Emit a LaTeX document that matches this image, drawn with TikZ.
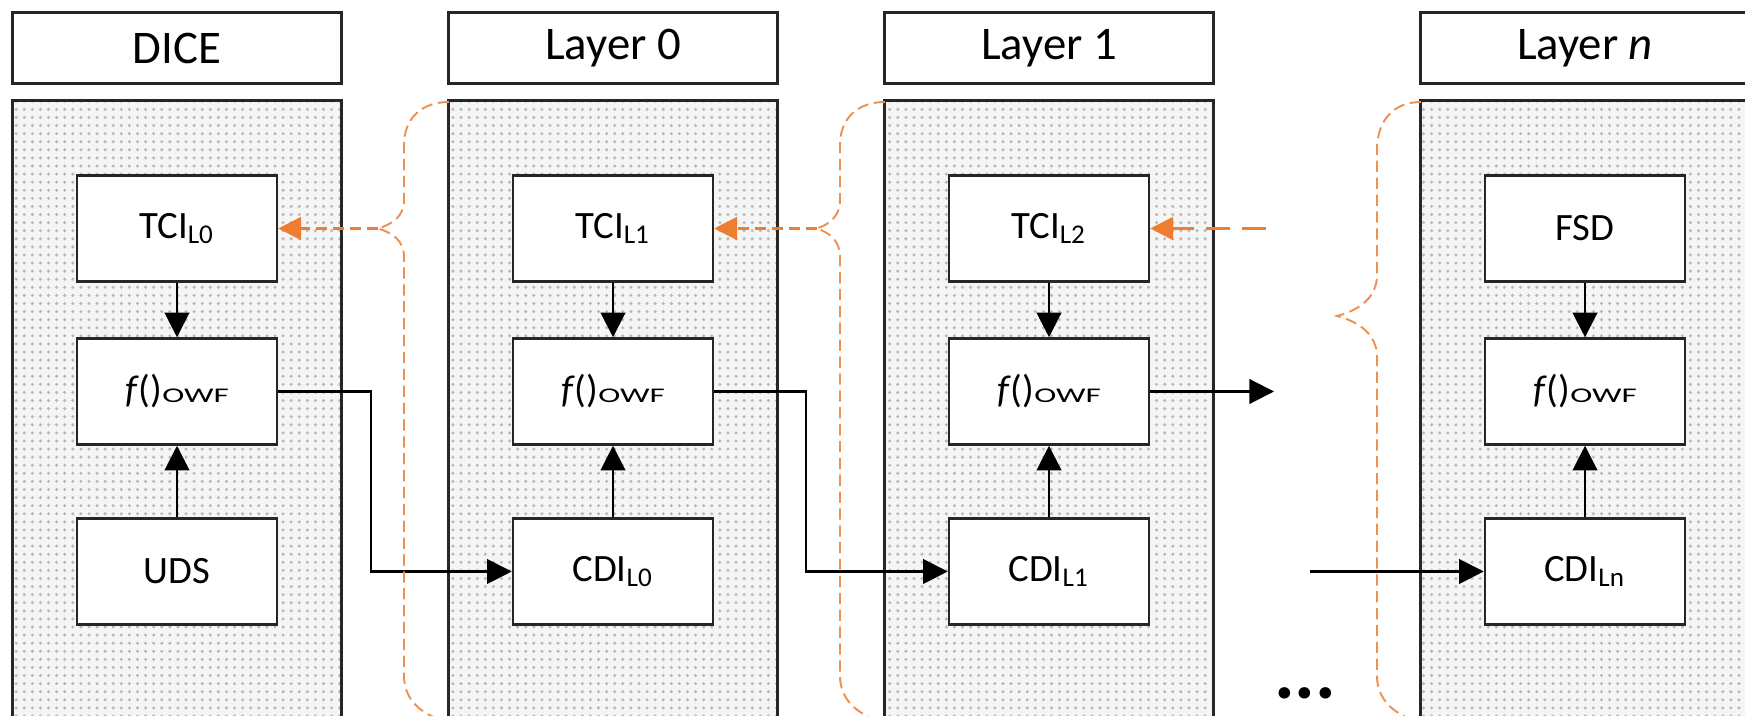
\documentclass[tikz,border=0pt]{standalone}
\usepackage{fontspec}
\setmainfont{Carlito}
\usepackage{graphicx}
\usetikzlibrary{arrows.meta,patterns.meta}

\definecolor{braceorange}{HTML}{ED7D31}

% f()_OWF label
\newcommand\fowflabel{\textit{f}()\fontsize{9}{9}\selectfont\scalebox{1.05}[0.66]{OWF}}

\begin{document}
\begin{tikzpicture}[x=0.01cm,y=-0.01cm,
  header/.style={draw=black!85,line width=0.85pt,fill=white,
    minimum width=3.28cm,minimum height=0.70cm,inner sep=0pt,
    font=\fontsize{13.3}{15}\selectfont},
  layerbox/.style={draw=black!85,line width=0.85pt,
    minimum width=3.28cm,minimum height=6.4cm,inner sep=0pt,
    preaction={fill=black!4},
    preaction={pattern={Dots[distance=2.3pt,radius=0.48pt]},pattern color=black!28}},
  inbox/.style={draw=black!85,line width=0.7pt,fill=white,
    minimum width=2cm,minimum height=1.06cm,inner sep=0pt,
    font=\fontsize{11}{13}\selectfont},
  arr/.style={line width=0.6pt,-{Triangle[length=7pt,width=7pt]}},
  bracepath/.style={draw=braceorange!85,line width=0.55pt,dash pattern=on 3.2pt off 1.6pt},
  feedback/.style={draw=braceorange,line width=0.7pt,dash pattern=on 3.2pt off 1.6pt,
    -{Triangle[length=6.5pt,width=6.5pt]}},
  longfeedback/.style={draw=braceorange,line width=0.7pt,dash pattern=on 6.8pt off 3.4pt,
    -{Triangle[length=6.5pt,width=6.5pt]}}
]
\clip (0,0) rectangle (1745,716);
\fill[white] (0,0) rectangle (1745,716);

% layer columns
\node[layerbox] (body0) at (177,421) {};
\node[layerbox] (body1) at (613,421) {};
\node[layerbox] (body2) at (1049,421) {};
\node[layerbox] (bodyn) at (1585,421) {};

\node[header] (head0) at (177,48) {DICE};
\node[header] (head1) at (613,48) {Layer 0};
\node[header] (head2) at (1049,48) {Layer 1};
\node[header] (headn) at (1585,48) {Layer \textit{n}};

% DICE
\node[inbox] (tci0) at (177,228.5) {TCI\textsubscript{L0}};
\node[inbox] (f0)   at (177,391.5) {\fowflabel};
\node[inbox] (uds)  at (177,571.5) {UDS};
% Layer 0
\node[inbox] (tci1) at (613,228.5) {TCI\textsubscript{L1}};
\node[inbox] (f1)   at (613,391.5) {\fowflabel};
\node[inbox] (cdi0) at (613,571.5) {CDI\textsubscript{L0}};
% Layer 1
\node[inbox] (tci2) at (1049,228.5) {TCI\textsubscript{L2}};
\node[inbox] (f2)   at (1049,391.5) {\fowflabel};
\node[inbox] (cdi1) at (1049,571.5) {CDI\textsubscript{L1}};
% Layer n
\node[inbox] (fsd)  at (1585,228.5) {FSD};
\node[inbox] (fn)   at (1585,391.5) {\fowflabel};
\node[inbox] (cdin) at (1585,571.5) {CDI\textsubscript{Ln}};

% vertical flows inside each layer
\draw[arr] (tci0) -- (f0);
\draw[arr] (uds) -- (f0);
\draw[arr] (tci1) -- (f1);
\draw[arr] (cdi0) -- (f1);
\draw[arr] (tci2) -- (f2);
\draw[arr] (cdi1) -- (f2);
\draw[arr] (fsd) -- (fn);
\draw[arr] (cdin) -- (fn);

% OWF output feeds the next layer's CDI
\draw[arr] (f0.east) -- ++(93,0) |- (cdi0.west);
\draw[arr] (f1.east) -- ++(92,0) |- (cdi1.west);
\coordinate (outone) at (1274,391.5);
\draw[arr] (f2.east) -- (outone);
\coordinate (inlast) at (1310,571.5);
\draw[arr] (inlast) -- (cdin.west);

% braces grouping each following layer
\draw[bracepath] (449,102) .. controls (422,102) and (404,118) .. (404,145)
  -- (404,200) .. controls (404,216) and (393,224) .. (378,228.5)
  .. controls (393,233) and (404,241) .. (404,257)
  -- (404,676) .. controls (404,700) and (422,716) .. (449,722);
\draw[bracepath] (885,102) .. controls (858,102) and (840,118) .. (840,145)
  -- (840,200) .. controls (840,216) and (830,224) .. (817,228.5)
  .. controls (830,233) and (840,241) .. (840,257)
  -- (840,676) .. controls (840,700) and (858,716) .. (885,722);
\draw[bracepath] (1421,102) .. controls (1394,102) and (1377,120) .. (1377,150)
  -- (1377,275) .. controls (1377,297) and (1360,310) .. (1337,316)
  .. controls (1360,322) and (1377,335) .. (1377,357)
  -- (1377,676) .. controls (1377,700) and (1395,716) .. (1421,722);

% TCI feedback from the next layer
\coordinate (tipzero) at (378,228.5);
\coordinate (tipone) at (817,228.5);
\coordinate (fromrest) at (1266,228.5);
\draw[feedback] (tipzero) -- (tci0.east);
\draw[feedback] (tipone) -- (tci1.east);
\draw[longfeedback] (fromrest) -- (tci2.east);

% ellipsis between Layer 1 and Layer n
\node[anchor=base,inner sep=0pt,font=\bfseries\fontsize{22}{24}\selectfont] (more) at (1305,699) {...};
\end{tikzpicture}
\end{document}
